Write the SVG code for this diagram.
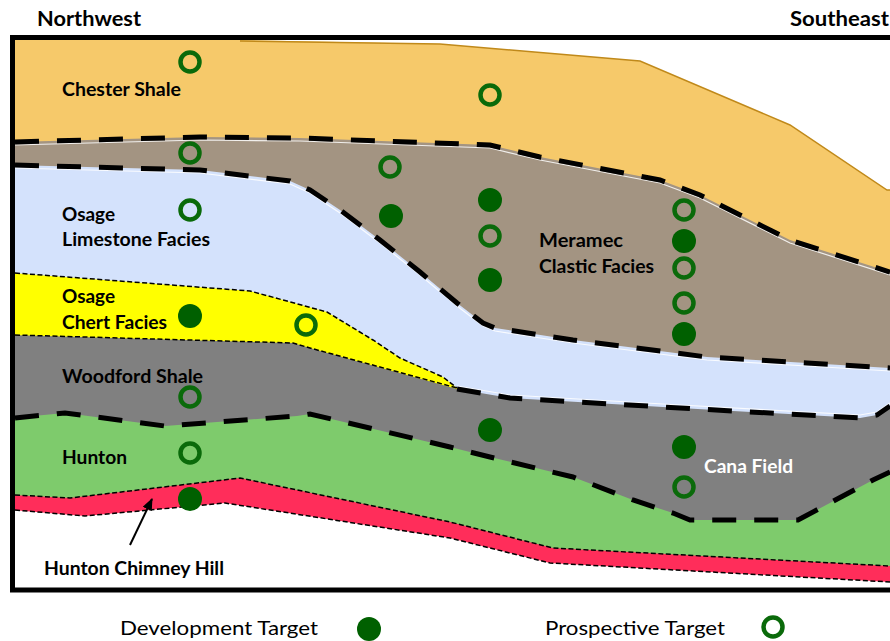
<svg xmlns="http://www.w3.org/2000/svg" width="890" height="641" viewBox="0 0 890 641">
<style>
.lbl{font-family:Lato,"Open Sans","Liberation Sans",sans-serif;font-weight:bold;font-size:19px;fill:#000}
.hdr{font-family:Lato,"Open Sans","Liberation Sans",sans-serif;font-weight:bold;font-size:20px;fill:#000}
.leg{font-family:Lato,"Open Sans","Liberation Sans",sans-serif;font-size:20px;fill:#000}
.thick{fill:none;stroke:#000;stroke-width:5;stroke-dasharray:24 18}
.thin{fill:none;stroke:#000;stroke-width:1.5;stroke-dasharray:5 2.5}
.hl{fill:none;stroke:#fff;stroke-width:1.2;stroke-opacity:0.85}
.dev{fill:#006000}
.pro{fill:none;stroke:#0a6a0a;stroke-width:4.5}
</style>
<defs>
<marker id="ah" viewBox="0 0 12 10" refX="11" refY="5" markerWidth="12" markerHeight="10" orient="auto" markerUnits="userSpaceOnUse">
<path d="M0,0 L12,5 L0,10 z" fill="#000"/>
</marker>
</defs>
<rect x="0" y="0" width="890" height="641" fill="#fff"/>
<g id="layers">
<polygon id="chester" fill="#F6C96A" points="12,40 240,40 440,44 640,61 790,125 887,190 890,190 890,590 12,590"/>
<polyline fill="none" stroke="#C0891A" stroke-width="1.5" points="240,41 440,44 640,61 790,125 887,190 890,190"/>
<polygon id="meramec" fill="#A39482" points="12,142 200,137 300,138 490,145 540,157 660,180 700,195 790,240 890,272 890,590 12,590"/>
<polygon id="osage-limestone" fill="#D4E2FC" points="12,165 200,170 290,181 310,190 340,210 380,240 420,272 457,303 483,323 495,328 573,340 707,357 807,363 890,368 890,590 12,590"/>
<polygon id="osage-chert" fill="#FFFF00" points="12,273 250,291 327,312 373,340 400,358 443,377 457,388 457,590 12,590"/>
<polygon id="woodford" fill="#808080" points="12,335 293,343 310,348 457,389 510,398 680,408 860,418 877,415 890,406 890,590 12,590"/>
<polygon id="hunton" fill="#7ECB6C" points="12,418 65,413 165,426 297,416 310,414 450,447 490,457 573,477 633,500 673,513 690,520 798,520 873,480 890,472 890,590 12,590"/>
<polygon id="chimney-hill" fill="#FF2D5A" points="12,495 70,498 240,478 450,522 553,548 890,566 890,590 12,590"/>
<polygon id="basement" fill="#fff" points="12,510 85,516 225,503 450,538 550,563 890,582 890,590 12,590"/>
</g>
<g id="boundaries">
<polyline class="hl" transform="translate(0,3)" points="15,142 200,137 300,138 490,145 540,157 660,180 700,195 790,240 890,272"/>
<polyline class="hl" transform="translate(0,3)" points="15,165 200,170 290,181 310,190 340,210 380,240 420,272 457,303 483,323 495,328 573,340 707,357 807,363 890,368"/>
<polyline class="hl" transform="translate(0,-3)" points="457,389 510,398 680,408 860,418 877,415 890,406"/>
<polyline class="thick" points="15,142 200,137 300,138 490,145 540,157 660,180 700,195 790,240 890,272"/>
<polyline class="thick" points="15,165 200,170 290,181 310,190 340,210 380,240 420,272 457,303 483,323 495,328 573,340 707,357 807,363 890,368"/>
<polyline class="thin" points="15,273 250,291 327,312 373,340 400,358 443,377 457,388"/>
<polyline class="thin" points="15,335 293,343 310,348 457,388"/>
<polyline class="thick" points="457,389 510,398 680,408 860,418 877,415 890,406"/>
<polyline class="thick" points="15,418 65,413 165,426 297,416 310,414 450,447 490,457 573,477 633,500 673,513 690,520 798,520 873,480 890,472"/>
<polyline class="thin" points="15,495 70,498 240,478 450,522 553,548 890,566"/>
<polyline class="thin" points="15,510 85,516 225,503 450,538 550,563 890,582"/>
</g>
<path id="frame" d="M900,37.5 H12.5 V590 H900" fill="none" stroke="#000" stroke-width="5"/>
<g id="connectors">
<line x1="130" y1="545" x2="152" y2="499" stroke="#000" stroke-width="2" marker-end="url(#ah)"/>
</g>
<g id="labels">
<text class="hdr" x="37" y="26" textLength="104" lengthAdjust="spacingAndGlyphs">Northwest</text>
<text class="hdr" x="790" y="26" textLength="99" lengthAdjust="spacingAndGlyphs">Southeast</text>
<text class="lbl" x="62" y="96" textLength="119" lengthAdjust="spacingAndGlyphs">Chester Shale</text>
<text class="lbl" x="62" y="221" textLength="53" lengthAdjust="spacingAndGlyphs">Osage</text>
<text class="lbl" x="62" y="246" textLength="148" lengthAdjust="spacingAndGlyphs">Limestone Facies</text>
<text class="lbl" x="62" y="303" textLength="53" lengthAdjust="spacingAndGlyphs">Osage</text>
<text class="lbl" x="62" y="329" textLength="105" lengthAdjust="spacingAndGlyphs">Chert Facies</text>
<text class="lbl" x="62" y="383" textLength="141" lengthAdjust="spacingAndGlyphs">Woodford Shale</text>
<text class="lbl" x="62" y="464" textLength="65" lengthAdjust="spacingAndGlyphs">Hunton</text>
<text class="lbl" x="44" y="575" textLength="180" lengthAdjust="spacingAndGlyphs">Hunton Chimney Hill</text>
<text class="lbl" x="539" y="247" textLength="84" lengthAdjust="spacingAndGlyphs">Meramec</text>
<text class="lbl" x="539" y="273" textLength="115" lengthAdjust="spacingAndGlyphs">Clastic Facies</text>
<text class="lbl" x="704" y="473" textLength="89" lengthAdjust="spacingAndGlyphs" style="fill:#fff">Cana Field</text>
</g>
<g id="targets">
<circle class="pro" cx="190" cy="62" r="9.5"/>
<circle class="pro" cx="190" cy="153" r="9.5"/>
<circle class="pro" cx="190" cy="210" r="9.5"/>
<circle class="dev" cx="190" cy="316" r="12"/>
<circle class="pro" cx="190" cy="397" r="9.5"/>
<circle class="pro" cx="190" cy="453" r="9.5"/>
<circle class="dev" cx="190" cy="499" r="12"/>
<circle class="pro" cx="306" cy="325" r="9.5"/>
<circle class="pro" cx="390" cy="167" r="9.5"/>
<circle class="dev" cx="391" cy="216" r="12"/>
<circle class="pro" cx="490" cy="95" r="9.5"/>
<circle class="dev" cx="490" cy="200" r="12"/>
<circle class="pro" cx="490" cy="236" r="9.5"/>
<circle class="dev" cx="490" cy="280" r="12"/>
<circle class="dev" cx="490" cy="430" r="12"/>
<circle class="pro" cx="684" cy="210" r="9.5"/>
<circle class="dev" cx="684" cy="241" r="12"/>
<circle class="pro" cx="684" cy="268" r="9.5"/>
<circle class="pro" cx="684" cy="303" r="9.5"/>
<circle class="dev" cx="684" cy="334" r="12"/>
<circle class="dev" cx="684" cy="447" r="12"/>
<circle class="pro" cx="684" cy="487" r="9.5"/>
</g>
<g id="legend">
<text class="leg" x="120" y="635" textLength="198" lengthAdjust="spacingAndGlyphs">Development Target</text>
<circle class="dev" cx="369" cy="629" r="12"/>
<text class="leg" x="545" y="635" textLength="180" lengthAdjust="spacingAndGlyphs">Prospective Target</text>
<circle class="pro" cx="773" cy="627" r="9.5"/>
</g>
</svg>
